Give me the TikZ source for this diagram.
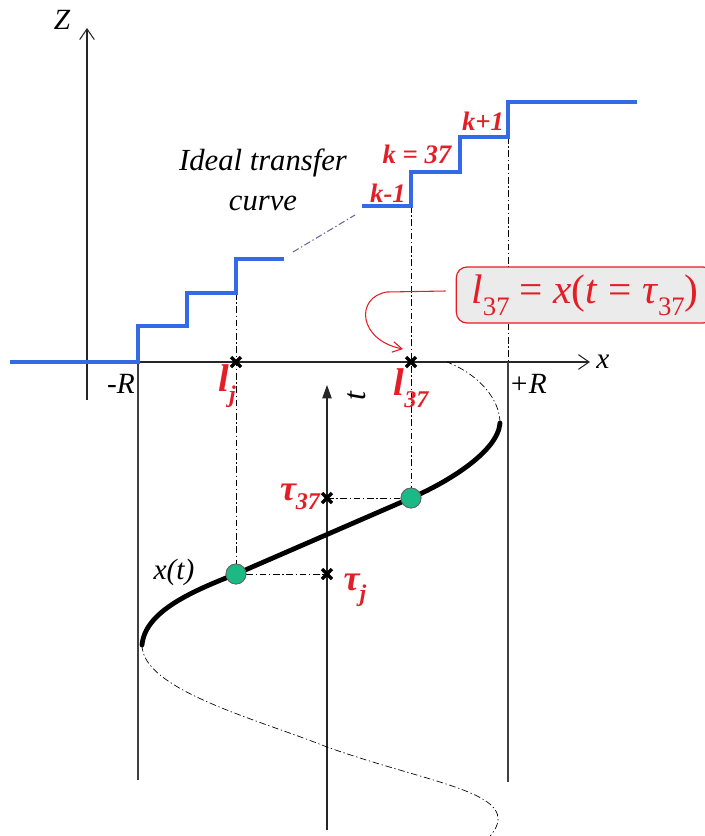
\documentclass[tikz,border=0pt]{standalone}
\usepackage{fontspec}
\setmainfont{Liberation Serif}
\usetikzlibrary{arrows.meta}
\definecolor{stepblue}{RGB}{52,106,230}
\definecolor{labred}{RGB}{226,30,38}
\definecolor{dotgreen}{RGB}{28,184,134}
\definecolor{linkgray}{RGB}{105,105,165}

\begin{document}
\begin{tikzpicture}[x=0.75pt,y=-0.75pt,line width=0.75pt,
  axis/.style={black!85,line width=0.8pt},
  bound/.style={black!75,line width=1pt},
  dashdot/.style={black,line width=0.6pt,dash pattern=on 5pt off 2pt on 1pt off 2pt},
  stair/.style={stepblue,line width=3pt},
  lab/.style={font=\fontsize{22}{24}\selectfont\itshape},
  redlab/.style={labred,font=\fontsize{29}{30}\selectfont\bfseries\itshape,inner sep=0pt},
  klab/.style={labred,font=\fontsize{20}{22}\selectfont\bfseries\itshape,inner sep=0pt},
  xmark/.style={line width=2.4pt},
  sampdot/.style={circle,fill=dotgreen,draw=black!60,line width=0.6pt,inner sep=0pt,minimum size=15pt},
  callout/.style={draw=labred,fill=black!8,rounded corners=8pt,line width=0.9pt,inner sep=2pt,
    minimum width=193pt,minimum height=42pt,text=labred}]
\useasboundingbox (0,0) rectangle (705,836);

% reference points
\coordinate (zb) at (87,400);
\coordinate (zt) at (87,28);
\coordinate (xa) at (52,362);
\coordinate (xb) at (590,362);
\coordinate (mr) at (138,362);
\coordinate (pr) at (508,362);
\coordinate (lj) at (236,362);
\coordinate (l37) at (411,362);
\coordinate (tj) at (327,574);
\coordinate (t37) at (327,498);
\coordinate (ta) at (327,830);
\coordinate (tb) at (327,385);

% axes and range bounds
\draw[axis,-{Straight Barb[length=8pt,width=11pt]}] (zb) -- (zt);
\draw[axis,-{Straight Barb[length=8pt,width=11pt]}] (xa) -- (xb);
\draw[axis,-{Triangle[length=10pt,width=7pt]}] (ta) -- (tb);
\draw[bound] (mr) -- (138,780);
\draw[bound] (pr) -- (508,782);
\draw[dashdot] (508,137) -- (pr);

% projections
\node[sampdot] (pj) at (236,574) {};
\node[sampdot] (p37) at (411,498) {};
\draw[dashdot] (236,293) -- (pj);
\draw[dashdot] (411,206) -- (p37);
\draw[dashdot] (pj) -- (tj);
\draw[dashdot] (t37) -- (p37);

% x(t)
\draw[dashdot,line width=0.5pt] (142,645) .. controls (142,690) and (260,720) .. (327,747)
  .. controls (420,780) and (500,790) .. (498,820) .. controls (497,830) and (490,836) .. (480,848);
\draw[dashdot,line width=0.5pt] (500,423) .. controls (500,400) and (480,375) .. (447,362);
\draw[line width=3.6pt,line cap=round] (142,645) .. controls (145,612) and (190,592) .. (pj.center)
  -- (p37.center) .. controls (446,483) and (498,452) .. (500,423);
\node[sampdot] at (pj) {};
\node[sampdot] at (p37) {};

% ideal transfer curve
\draw[stair] (10,362) -- (138,362) -- (138,326) -- (187,326) -- (187,293) -- (236,293)
  -- (236,259) -- (284,259);
\draw[linkgray,line width=0.8pt,dash pattern=on 5pt off 2pt on 1pt off 2pt] (293,252) -- (355,215);
\draw[stair] (362,206) -- (411,206) -- (411,172) -- (460,172) -- (460,137) -- (508,137)
  -- (508,102) -- (637,102);

% marks
\foreach \p in {lj,l37,tj,t37}
  \draw[xmark] ([shift={(-5,-5)}]\p) -- ([shift={(5,5)}]\p)
    ([shift={(-5,5)}]\p) -- ([shift={(5,-5)}]\p);

% labels
\node[lab] (zlab) at (62,20) {Z};
\node[lab] (xlab) at (603,362) {x};
\node[lab] (mrlab) at (121,384) {-R};
\node[lab] (prlab) at (528,384) {+R};
\node[rotate=90,font=\fontsize{24}{24}\selectfont\itshape,inner sep=0pt] (tlab) at (357,396) {t};
\node[lab,align=center,font=\fontsize{23}{30}\selectfont\itshape] (ideal) at (263,180) {Ideal transfer\\curve};
\node[lab] (xtlab) at (174,572) {x(t)};
\node[klab] (km) at (388,193) {k-1};
\node[klab] (k0) at (417,154) {k = 37};
\node[klab] (kp) at (483,121) {k+1};
\node[redlab] (ljlab) at (227,386) {l\raisebox{-0.3em}{\fontsize{18}{18}\selectfont j}};
\node[redlab] (l37lab) at (411,388) {l\raisebox{-0.3em}{\fontsize{18}{18}\selectfont 37}};
\node[redlab,font=\fontsize{27}{28}\selectfont\bfseries\itshape] (t37lab) at (300,497) {τ\raisebox{-0.25em}{\fontsize{18}{18}\selectfont 37}};
\node[redlab,font=\fontsize{27}{28}\selectfont\bfseries\itshape] (tjlab) at (355,590) {τ\raisebox{-0.3em}{\fontsize{18}{18}\selectfont j}};

% callout
\node[callout,font=\fontsize{31}{33}\selectfont] (eq) at (585,295)
  {\textit{l}\raisebox{-0.3em}{\fontsize{20}{20}\selectfont 37} = \textit{x}(\textit{t} = \textit{τ}\raisebox{-0.3em}{\fontsize{20}{20}\selectfont 37})};
\draw[labred,line width=0.8pt,-{Straight Barb[length=7pt,width=8pt]}] (eq.west) ++(-10,-4) -- (387,292)
  .. controls (355,297) and (358,340) .. (403,349);
\end{tikzpicture}
\end{document}
